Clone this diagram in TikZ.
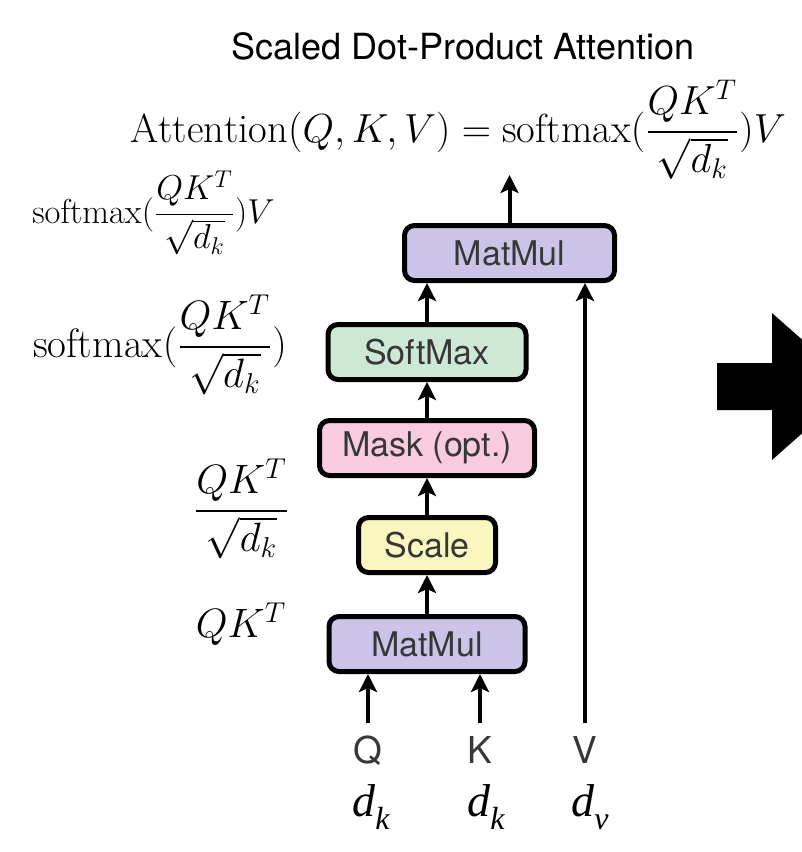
\RequirePackage{fix-cm}
\documentclass[tikz,border=0pt]{standalone}
\usepackage{amsmath}
\usepackage{fontspec}
\setsansfont{TeX Gyre Heros}
\newfontfamily\dimfont{Liberation Serif}
\usetikzlibrary{arrows.meta}

\definecolor{matmulcol}{RGB}{203,196,232}
\definecolor{softcol}{RGB}{205,232,212}
\definecolor{maskcol}{RGB}{248,204,222}
\definecolor{scalecol}{RGB}{250,246,192}
\definecolor{boxtext}{RGB}{55,55,55}

\newcommand{\dimsub}[1]{\raisebox{-0.3em}{\fontsize{16}{16}\selectfont #1}}

\tikzset{
	block/.style={draw=black,line width=2.5pt,rounded corners=5pt,minimum height=27.5pt,inner sep=0pt,text=boxtext,font=\sffamily\fontsize{17}{17}\selectfont},
	flow/.style={line width=2pt,-{Stealth[length=9pt,width=9pt,inset=2pt]}},
	inp/.style={inner sep=0pt,outer sep=6.75pt,text height=13.25pt,text depth=0pt,text=boxtext,font=\sffamily\fontsize{18.5}{18.5}\selectfont},
	dim/.style={anchor=base,inner sep=0pt,font=\dimfont\itshape\fontsize{23}{23}\selectfont},
	lbl/.style={anchor=base,inner sep=0pt,font=\fontsize{20.5}{22}\selectfont},
}

\begin{document}
\begin{tikzpicture}[x=0.5pt,y=-0.5pt]
				%\draw[color=gray,step=10,help lines,opacity=0.3] (0,0) grid (802,852); %help grids
				\useasboundingbox (0,0) rectangle (802,852);

				\node[anchor=base,inner sep=0pt,font=\sffamily\fontsize{18}{18}\selectfont] (title) at (463,59) {Scaled Dot-Product Attention};
				\node[anchor=base,inner sep=0pt,font=\fontsize{20.3}{22}\selectfont] (eq) at (458,142) {$\mathrm{Attention}(Q,K,V)=\mathrm{softmax}(\dfrac{QK^T}{\sqrt{d_k}})V$};

				\node[lbl,font=\fontsize{17.3}{19}\selectfont] (l1) at (153.5,223) {$\mathrm{softmax}(\dfrac{QK^T}{\sqrt{d_k}})V$};
				\node[lbl] (l2) at (160,357) {$\mathrm{softmax}(\dfrac{QK^T}{\sqrt{d_k}})$};
				\node[lbl] (l3) at (241.5,521) {$\dfrac{QK^T}{\sqrt{d_k}}$};
				\node[lbl] (l4) at (241,637) {$QK^T$};

				\node[block,fill=matmulcol,minimum width=105pt] (mmhi) at (509.5,253) {MatMul};
				\node[block,fill=softcol,minimum width=99pt] (smax) at (427,352) {SoftMax};
				\node[block,fill=maskcol,minimum width=107.5pt] (mask) at (427,448) {Mask (opt.)};
				\node[block,fill=scalecol,minimum width=68.5pt] (scl) at (427,545) {Scale};
				\node[block,fill=matmulcol,minimum width=98pt] (mmlo) at (427,644) {MatMul};
				\coordinate (out) at (509.5,175);

				\node[inp] (q) at (368,750) {Q};
				\node[inp] (k) at (480,750) {K};
				\node[inp] (v) at (585,750) {V};

				\node[dim] (dq) at (371,816) {d\dimsub{k}};
				\node[dim] (dk) at (486,816) {d\dimsub{k}};
				\node[dim] (dv) at (590,816) {d\dimsub{v}};

				\draw[flow] (q.north) -- (q.north |- mmlo.south);
				\draw[flow] (k.north) -- (k.north |- mmlo.south);
				\draw[flow] (mmlo) -- (scl);
				\draw[flow] (scl) -- (mask);
				\draw[flow] (mask) -- (smax);
				\draw[flow] (smax) -- (smax |- mmhi.south);
				\draw[flow] (v.north) -- (v.north |- mmhi.south);
				\draw[flow] (mmhi) -- (out);

				\begin{scope}
					\clip (0,0) rectangle (802,852);
					\fill (717,363) -- (772,363) -- (772,313) -- (855,386.5) -- (772,460) -- (772,410) -- (717,410) -- cycle;
				\end{scope}
\end{tikzpicture}
\end{document}
